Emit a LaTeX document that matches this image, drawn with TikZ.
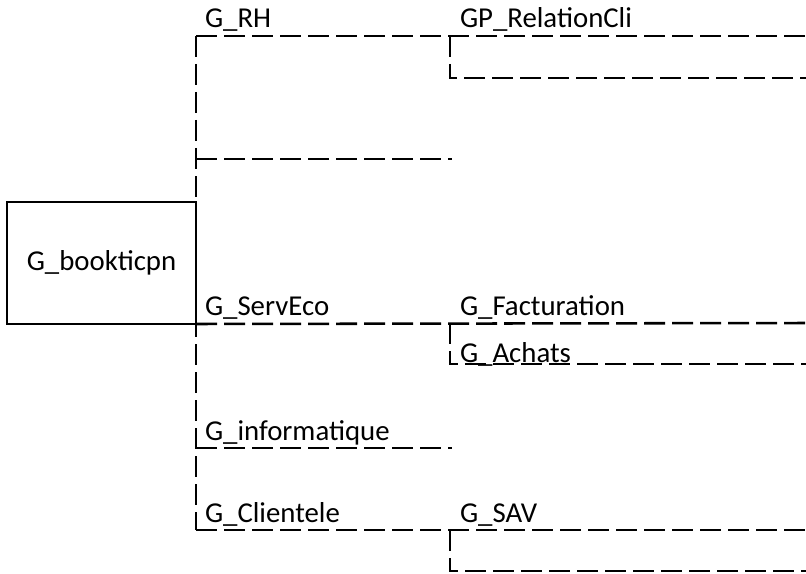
\documentclass[tikz,border=0pt]{standalone}
\usepackage{fontspec}
\setmainfont{Carlito}
\begin{document}
\begin{tikzpicture}[x=0.75pt,y=-0.75pt,
  conn/.style={line width=1.9pt, dash pattern=on 15.75pt off 5.25pt},
  lbl/.style={anchor=base west, inner sep=0pt, outer sep=0pt, font=\fontsize{21.6pt}{26pt}\selectfont},
  rootbox/.style={draw, line width=1.9pt, inner sep=0pt, outer sep=0pt,
    minimum width=141.75pt, minimum height=91.5pt, font=\fontsize{21.6pt}{26pt}\selectfont}]
\useasboundingbox (0,0) rectangle (806,574);
% root
\node[rootbox] (root) at (101.5,263) {G\_bookticpn};
% labels
\node[lbl] (rh)   at (205,28)  {G\_RH};
\node[lbl] (rel)  at (460,28)  {GP\_RelationCli};
\node[lbl] (serv) at (205,315) {G\_ServEco};
\node[lbl] (fact) at (460,315) {G\_Facturation};
\node[lbl] (ach)  at (460,362) {G\_Achats};
\node[lbl] (info) at (205,440) {G\_informatique};
\node[lbl] (cli)  at (205,522) {G\_Clientele};
\node[lbl] (sav)  at (460,522) {G\_SAV};
% coordinates
\coordinate (rhC)  at (196,36);
\coordinate (rhR)  at (806,36);
\coordinate (relC) at (450,36);
\coordinate (relB) at (450,78);
\coordinate (relR) at (806,78);
\coordinate (gapJ) at (196,159);
\coordinate (gapE) at (452,159);
\coordinate (servR) at (806,323);
\coordinate (factC) at (450,323);
\coordinate (achB) at (450,364);
\coordinate (achR) at (806,364);
\coordinate (infoJ) at (196,448);
\coordinate (infoE) at (452,448);
\coordinate (cliC) at (196,530);
\coordinate (cliR) at (806,530);
\coordinate (savC) at (450,530);
\coordinate (savB) at (450,571);
\coordinate (savR) at (806,571);
% connectors
\draw[conn] (rhC) -- (rhR);
\draw[conn] (rhC) -- (cliC);
\draw[conn] (relC) -- (relB) -- (relR);
\draw[conn] (gapJ) -- (gapE);
\draw[conn] (root.south east) -- (servR);
\draw[conn] (factC) -- (achB) -- (achR);
\draw[conn] (infoJ) -- (infoE);
\draw[conn] (cliC) -- (cliR);
\draw[conn] (savC) -- (savB) -- (savR);
\end{tikzpicture}
\end{document}
